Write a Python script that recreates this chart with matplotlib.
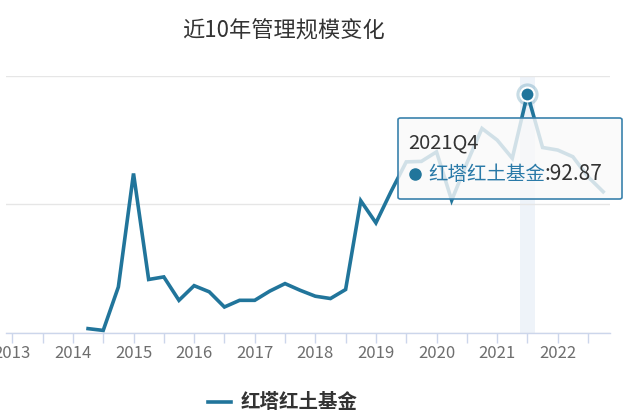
import matplotlib.pyplot as plt
from matplotlib.patches import FancyBboxPatch, Rectangle
from matplotlib.lines import Line2D

plt.rcParams['font.family'] = ['Noto Sans CJK SC', 'DejaVu Sans']

# quarterly categories, 2013Q1 .. 2023Q1
quarters = [f"{y}Q{q}" for y in range(2013, 2024) for q in range(1, 5)][:41]
year_labels = ['2013', '2014', '2015', '2016', '2017', '2018', '2019', '2020', '2021', '2022']
year_label_pos = ['2013Q2', '2014Q2', '2015Q2', '2016Q2', '2017Q2', '2018Q2',
                  '2019Q2', '2020Q2', '2021Q2', '2022Q2']

# fund size (亿元) from 2014Q3 onwards
start_q = '2014Q3'
scale = [1.7, 1.0, 17.9, 62.0, 20.8, 21.8, 12.7, 18.4, 16.0, 10.1,
         12.7, 12.7, 16.3, 19.2, 16.6, 14.3, 13.4, 16.9, 51.4, 42.8,
         55.0, 66.5, 66.7, 70.4, 51.6, 66.0, 79.5, 75.0, 67.9, 92.87,
         72.1, 71.1, 68.5, 60.7, 54.9]
series_name = '红塔红土基金'
hl_q = '2021Q4'

blue = '#21759b'
W, H = 640, 417

def fx(x):
    return x / W

def fy(y):
    return 1 - y / H

fig = plt.figure(figsize=(6.4, 4.17), dpi=100)
ax = fig.add_axes([fx(6), fy(333), fx(610) - fx(6), fy(75.7) - fy(333)])

i0 = quarters.index(start_q)
xs = list(range(i0, i0 + len(scale)))
hi = quarters.index(hl_q)
hv = scale[hi - i0]

# axis pointer band
ax.add_patch(Rectangle((hi - 0.5, 0), 1, 100, color='#eef3f9', zorder=0, lw=0))

ax.plot(xs, scale, color=blue, lw=2.6, solid_joinstyle='miter', zorder=3)
ax.plot([hi], [hv], 'o', ms=16, color=blue, alpha=0.25, mec='none', zorder=4, clip_on=False)
ax.plot([hi], [hv], 'o', ms=10, color=blue, mec='white', mew=1.5, zorder=5, clip_on=False)

ax.set_xlim(0.584, 40.45)
ax.set_ylim(0, 100)
ax.set_yticks([0, 50, 100])
ax.yaxis.grid(True, color='#e6e6e6', lw=1)
ax.set_axisbelow(True)
ax.tick_params(axis='y', length=0, labelleft=False)
for s in ['top', 'right', 'left']:
    ax.spines[s].set_visible(False)
ax.spines['bottom'].set_color('#ccd6eb')
ax.spines['bottom'].set_linewidth(1)

ax.set_xticks(range(1, 41, 2))
ax.set_xticklabels([''] * 20)
ax.tick_params(axis='x', length=7, color='#ccd6eb', width=1)
for lab, q in zip(year_labels, year_label_pos):
    ax.text(quarters.index(q), -7.8, lab, ha='center', va='center', fontsize=12,
            color='#6e6e6e', clip_on=False)

fig.text(fx(283), fy(31), '近10年管理规模变化', ha='center', va='center',
         fontsize=16, color='#333333')

# tooltip
box = FancyBboxPatch((fx(398), fy(199)), fx(622) - fx(398), fy(118) - fy(199),
                     boxstyle='round,pad=0,rounding_size=0.004', transform=fig.transFigure,
                     facecolor=(0.975, 0.975, 0.975, 0.82), edgecolor='#3a82ad', lw=1.2, zorder=6)
fig.patches.append(box)
fig.text(fx(408), fy(143), hl_q, ha='left', va='center', fontsize=14.5, color='#333333', zorder=7)
fig.lines.append(Line2D([fx(415)], [fy(174)], marker='o', ms=8, color=blue,
                        transform=fig.transFigure, zorder=7))
t1 = fig.text(fx(428), fy(174), series_name, ha='left', va='center', fontsize=14,
              color='#2a7aa8', zorder=7)
fig.canvas.draw()
bb = t1.get_window_extent().transformed(fig.transFigure.inverted())
fig.text(bb.x1, fy(174), f':{hv:.2f}', ha='left', va='center', fontsize=15,
         color='#333333', zorder=7)

# legend
fig.legend([Line2D([], [], color=blue, lw=2.6)], [series_name], loc='center',
           bbox_to_anchor=(fx(283), fy(403)), frameon=False, handlelength=1.2,
           handletextpad=0.5, prop={'weight': 'bold', 'size': 14})
for t in fig.legends[0].get_texts():
    t.set_color('#333333')

fig.savefig('out.png', dpi=100)
